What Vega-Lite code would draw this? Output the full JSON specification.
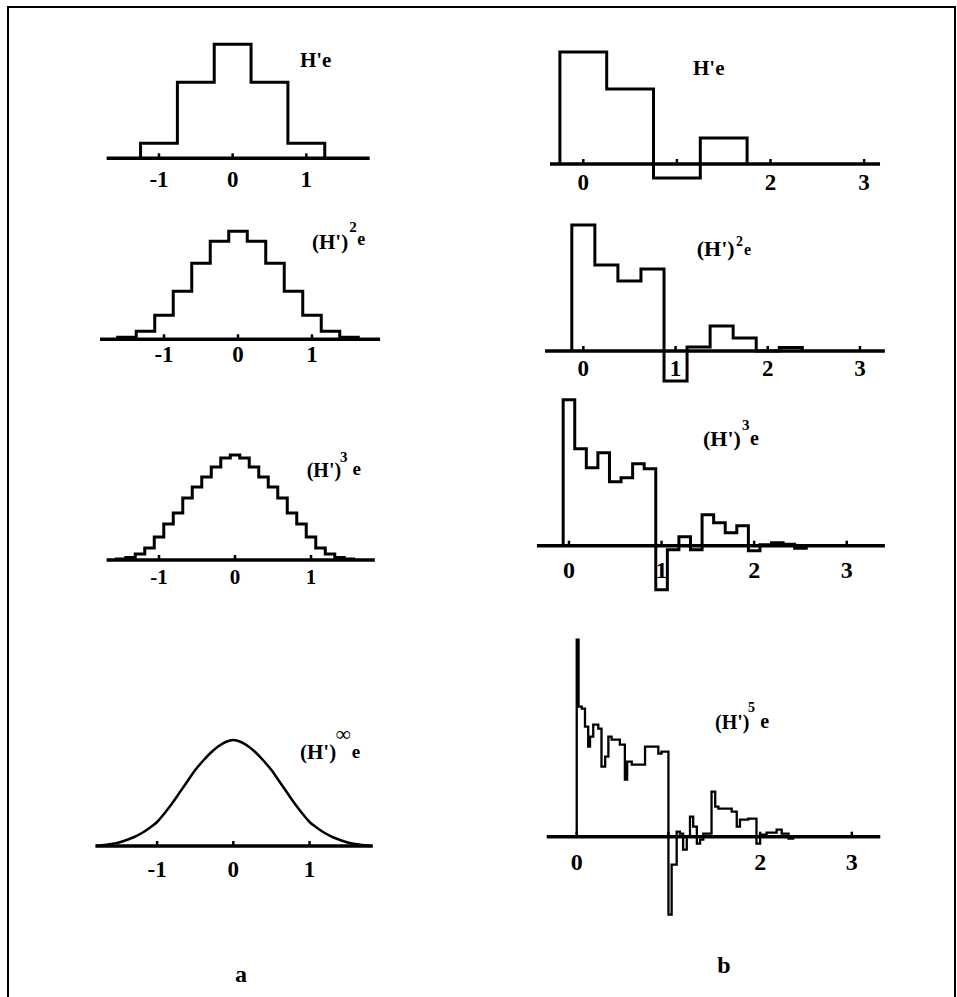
{
  "$schema": "https://vega.github.io/schema/vega-lite/v6.json",
  "width": 947,
  "height": 995,
  "autosize": {"type": "none"},
  "padding": {"left": 8, "top": 7, "right": 2, "bottom": 0},
  "background": "white",
  "config": {
    "view": {"stroke": "black", "strokeWidth": 2},
    "text": {"font": "Liberation Serif", "fontWeight": "bold", "color": "black"},
    "line": {"color": "black"},
    "rule": {"color": "black"}
  },
  "datasets": {
    "L1": [{"x": -1.25, "y": 0}, {"x": -1.25, "y": 15}, {"x": -0.75, "y": 76}, {"x": -0.25, "y": 114}, {"x": 0.25, "y": 76}, {"x": 0.75, "y": 15}, {"x": 1.25, "y": 0}],
    "L2": [{"x": -1.625, "y": 0}, {"x": -1.625, "y": 2}, {"x": -1.375, "y": 8}, {"x": -1.125, "y": 24}, {"x": -0.875, "y": 48}, {"x": -0.625, "y": 76}, {"x": -0.375, "y": 98}, {"x": -0.125, "y": 108}, {"x": 0.125, "y": 98}, {"x": 0.375, "y": 76}, {"x": 0.625, "y": 48}, {"x": 0.875, "y": 24}, {"x": 1.125, "y": 8}, {"x": 1.375, "y": 2}, {"x": 1.625, "y": 0}],
    "L3": [{"x": -1.5625, "y": 0}, {"x": -1.5625, "y": 1}, {"x": -1.4375, "y": 2.5}, {"x": -1.3125, "y": 6}, {"x": -1.1875, "y": 12}, {"x": -1.0625, "y": 23}, {"x": -0.9375, "y": 36}, {"x": -0.8125, "y": 47}, {"x": -0.6875, "y": 62}, {"x": -0.5625, "y": 73}, {"x": -0.4375, "y": 83}, {"x": -0.3125, "y": 93}, {"x": -0.1875, "y": 102}, {"x": -0.0625, "y": 105}, {"x": 0.0625, "y": 102}, {"x": 0.1875, "y": 93}, {"x": 0.3125, "y": 83}, {"x": 0.4375, "y": 73}, {"x": 0.5625, "y": 62}, {"x": 0.6875, "y": 47}, {"x": 0.8125, "y": 36}, {"x": 0.9375, "y": 23}, {"x": 1.0625, "y": 12}, {"x": 1.1875, "y": 6}, {"x": 1.3125, "y": 2.5}, {"x": 1.4375, "y": 1}, {"x": 1.5625, "y": 0}],
    "L4": [{"x": -1.8, "y": 0}, {"x": -1.7, "y": 1}, {"x": -1.6, "y": 2}, {"x": -1.5, "y": 3.5}, {"x": -1.4, "y": 6}, {"x": -1.3, "y": 9}, {"x": -1.2, "y": 13}, {"x": -1.1, "y": 18}, {"x": -1.0, "y": 24}, {"x": -0.9, "y": 33}, {"x": -0.8, "y": 43}, {"x": -0.7, "y": 54}, {"x": -0.6, "y": 65}, {"x": -0.5, "y": 76}, {"x": -0.4, "y": 85}, {"x": -0.3, "y": 93}, {"x": -0.2, "y": 99.5}, {"x": -0.1, "y": 104}, {"x": 0, "y": 106}, {"x": 0.1, "y": 104}, {"x": 0.2, "y": 99.5}, {"x": 0.3, "y": 93}, {"x": 0.4, "y": 85}, {"x": 0.5, "y": 76}, {"x": 0.6, "y": 65}, {"x": 0.7, "y": 54}, {"x": 0.8, "y": 43}, {"x": 0.9, "y": 33}, {"x": 1.0, "y": 24}, {"x": 1.1, "y": 18}, {"x": 1.2, "y": 13}, {"x": 1.3, "y": 9}, {"x": 1.4, "y": 6}, {"x": 1.5, "y": 3.5}, {"x": 1.6, "y": 2}, {"x": 1.7, "y": 1}, {"x": 1.8, "y": 0}],
    "R1": [{"x": -0.25, "y": 0}, {"x": -0.25, "y": 112}, {"x": 0.25, "y": 75}, {"x": 0.75, "y": -14}, {"x": 1.25, "y": 26}, {"x": 1.75, "y": 0}],
    "R2": [{"x": -0.125, "y": 0}, {"x": -0.125, "y": 126}, {"x": 0.125, "y": 86}, {"x": 0.375, "y": 70}, {"x": 0.625, "y": 82}, {"x": 0.875, "y": -30}, {"x": 1.125, "y": 4}, {"x": 1.375, "y": 25}, {"x": 1.625, "y": 13}, {"x": 1.875, "y": 0}, {"x": 2.125, "y": 3.5}, {"x": 2.375, "y": 0}],
    "R3": [{"x": -0.0625, "y": 0}, {"x": -0.0625, "y": 146}, {"x": 0.0625, "y": 97}, {"x": 0.1875, "y": 78}, {"x": 0.3125, "y": 93}, {"x": 0.4375, "y": 64}, {"x": 0.5625, "y": 68}, {"x": 0.6875, "y": 82}, {"x": 0.8125, "y": 77}, {"x": 0.9375, "y": -44}, {"x": 1.0625, "y": -4}, {"x": 1.1875, "y": 9}, {"x": 1.3125, "y": -4}, {"x": 1.4375, "y": 31}, {"x": 1.5625, "y": 23}, {"x": 1.6875, "y": 13}, {"x": 1.8125, "y": 20}, {"x": 1.9375, "y": -5}, {"x": 2.0625, "y": 1}, {"x": 2.1875, "y": 3}, {"x": 2.3125, "y": 1.5}, {"x": 2.4375, "y": -2.5}, {"x": 2.5625, "y": 0}],
    "R4": [{"x": 0, "y": 0}, {"x": 0, "y": 197}, {"x": 0.02, "y": 130}, {"x": 0.055, "y": 128}, {"x": 0.09, "y": 110}, {"x": 0.125, "y": 90}, {"x": 0.145, "y": 100}, {"x": 0.18, "y": 112}, {"x": 0.235, "y": 108}, {"x": 0.27, "y": 70}, {"x": 0.31, "y": 80}, {"x": 0.345, "y": 100}, {"x": 0.38, "y": 97}, {"x": 0.47, "y": 92}, {"x": 0.525, "y": 57}, {"x": 0.55, "y": 75}, {"x": 0.6, "y": 72}, {"x": 0.745, "y": 90}, {"x": 0.89, "y": 83}, {"x": 0.925, "y": 85}, {"x": 1.0, "y": -78}, {"x": 1.035, "y": -28}, {"x": 1.09, "y": 5}, {"x": 1.125, "y": 3}, {"x": 1.16, "y": -13}, {"x": 1.2, "y": 0}, {"x": 1.235, "y": 20}, {"x": 1.27, "y": 10}, {"x": 1.31, "y": -7}, {"x": 1.345, "y": -3}, {"x": 1.38, "y": 3}, {"x": 1.47, "y": 45}, {"x": 1.51, "y": 30}, {"x": 1.545, "y": 28}, {"x": 1.69, "y": 25}, {"x": 1.745, "y": 10}, {"x": 1.78, "y": 17}, {"x": 1.87, "y": 18}, {"x": 1.96, "y": -7}, {"x": 2.0, "y": 2}, {"x": 2.07, "y": 4}, {"x": 2.18, "y": 7}, {"x": 2.235, "y": 3}, {"x": 2.31, "y": -2}, {"x": 2.36, "y": 0}],
    "ticksA": [{"x": -1, "t": "-1"}, {"x": 0, "t": "0"}, {"x": 1, "t": "1"}],
    "ticksB": [{"x": 0, "t": "0"}, {"x": 1, "t": "1"}, {"x": 2, "t": "2"}, {"x": 3, "t": "3"}],
    "one": [{}]
  },
  "resolve": {"scale": {"x": "independent", "y": "independent"}},
  "layer": [
    {"data": {"name": "L1"}, "mark": {"type": "line", "interpolate": "step-after", "strokeWidth": 3},
     "encoding": {"x": {"field": "x", "type": "quantitative", "scale": {"domain": [-3.049, 9.804], "nice": false, "zero": false}, "axis": null},
                  "y": {"field": "y", "type": "quantitative", "scale": {"domain": [-843.7, 151.3], "nice": false, "zero": false}, "axis": null}}},
    {"data": {"name": "one"}, "mark": {"type": "rule", "strokeWidth": 3.5},
     "encoding": {"x": {"datum": -1.71, "type": "quantitative", "scale": {"domain": [-3.049, 9.804], "nice": false, "zero": false}, "axis": null}, "x2": {"datum": 1.86},
                  "y": {"datum": 0, "type": "quantitative", "scale": {"domain": [-843.7, 151.3], "nice": false, "zero": false}, "axis": null}}},
    {"data": {"name": "ticksA"}, "mark": {"type": "rule", "strokeWidth": 2.5},
     "encoding": {"x": {"field": "x", "type": "quantitative", "scale": {"domain": [-3.049, 9.804], "nice": false, "zero": false}, "axis": null},
                  "y": {"datum": 0, "type": "quantitative", "scale": {"domain": [-843.7, 151.3], "nice": false, "zero": false}, "axis": null}, "y2": {"datum": 5}}},
    {"data": {"name": "ticksA"}, "mark": {"type": "text", "fontSize": 23, "dy": 28.5, "align": "center", "baseline": "alphabetic"},
     "encoding": {"x": {"field": "x", "type": "quantitative", "scale": {"domain": [-3.049, 9.804], "nice": false, "zero": false}, "axis": null},
                  "y": {"datum": 0, "type": "quantitative", "scale": {"domain": [-843.7, 151.3], "nice": false, "zero": false}, "axis": null}, "text": {"field": "t"}}},
    {"data": {"name": "one"}, "mark": {"type": "text", "fontSize": 21, "align": "left", "baseline": "alphabetic"},
     "encoding": {"x": {"datum": 0.913, "type": "quantitative", "scale": {"domain": [-3.049, 9.804], "nice": false, "zero": false}, "axis": null},
                  "y": {"datum": 91.3, "type": "quantitative", "scale": {"domain": [-843.7, 151.3], "nice": false, "zero": false}, "axis": null}, "text": {"value": "H'e"}}},

    {"data": {"name": "L2"}, "mark": {"type": "line", "interpolate": "step-after", "strokeWidth": 3},
     "encoding": {"x": {"field": "x", "type": "quantitative", "scale": {"domain": [-3.108, 9.689], "nice": false, "zero": false}, "axis": null},
                  "y": {"field": "y", "type": "quantitative", "scale": {"domain": [-662.7, 332.3], "nice": false, "zero": false}, "axis": null}}},
    {"data": {"name": "one"}, "mark": {"type": "rule", "strokeWidth": 3.5},
     "encoding": {"x": {"datum": -1.865, "type": "quantitative", "scale": {"domain": [-3.108, 9.689], "nice": false, "zero": false}, "axis": null}, "x2": {"datum": 1.92},
                  "y": {"datum": 0, "type": "quantitative", "scale": {"domain": [-662.7, 332.3], "nice": false, "zero": false}, "axis": null}}},
    {"data": {"name": "ticksA"}, "mark": {"type": "rule", "strokeWidth": 2.5},
     "encoding": {"x": {"field": "x", "type": "quantitative", "scale": {"domain": [-3.108, 9.689], "nice": false, "zero": false}, "axis": null},
                  "y": {"datum": 0, "type": "quantitative", "scale": {"domain": [-662.7, 332.3], "nice": false, "zero": false}, "axis": null}, "y2": {"datum": 5}}},
    {"data": {"name": "ticksA"}, "mark": {"type": "text", "fontSize": 23, "dy": 23, "align": "center", "baseline": "alphabetic"},
     "encoding": {"x": {"field": "x", "type": "quantitative", "scale": {"domain": [-3.108, 9.689], "nice": false, "zero": false}, "axis": null},
                  "y": {"datum": 0, "type": "quantitative", "scale": {"domain": [-662.7, 332.3], "nice": false, "zero": false}, "axis": null}, "text": {"field": "t"}}},
    {"data": {"name": "one"}, "mark": {"type": "text", "fontSize": 21, "align": "left", "baseline": "alphabetic"},
     "encoding": {"x": {"datum": 1.0, "type": "quantitative", "scale": {"domain": [-3.108, 9.689], "nice": false, "zero": false}, "axis": null},
                  "y": {"datum": 90, "type": "quantitative", "scale": {"domain": [-662.7, 332.3], "nice": false, "zero": false}, "axis": null}, "text": {"value": "(H')"}}},
    {"data": {"name": "one"}, "mark": {"type": "text", "fontSize": 15, "align": "left", "baseline": "alphabetic"},
     "encoding": {"x": {"datum": 1.505, "type": "quantitative", "scale": {"domain": [-3.108, 9.689], "nice": false, "zero": false}, "axis": null},
                  "y": {"datum": 107.3, "type": "quantitative", "scale": {"domain": [-662.7, 332.3], "nice": false, "zero": false}, "axis": null}, "text": {"value": "2"}}},
    {"data": {"name": "one"}, "mark": {"type": "text", "fontSize": 18, "align": "left", "baseline": "alphabetic"},
     "encoding": {"x": {"datum": 1.612, "type": "quantitative", "scale": {"domain": [-3.108, 9.689], "nice": false, "zero": false}, "axis": null},
                  "y": {"datum": 94.3, "type": "quantitative", "scale": {"domain": [-662.7, 332.3], "nice": false, "zero": false}, "axis": null}, "text": {"value": "e"}}},

    {"data": {"name": "L3"}, "mark": {"type": "line", "interpolate": "step-after", "strokeWidth": 3},
     "encoding": {"x": {"field": "x", "type": "quantitative", "scale": {"domain": [-2.987, 9.474], "nice": false, "zero": false}, "axis": null},
                  "y": {"field": "y", "type": "quantitative", "scale": {"domain": [-442, 553], "nice": false, "zero": false}, "axis": null}}},
    {"data": {"name": "one"}, "mark": {"type": "rule", "strokeWidth": 3.5},
     "encoding": {"x": {"datum": -1.69, "type": "quantitative", "scale": {"domain": [-2.987, 9.474], "nice": false, "zero": false}, "axis": null}, "x2": {"datum": 1.84},
                  "y": {"datum": 0, "type": "quantitative", "scale": {"domain": [-442, 553], "nice": false, "zero": false}, "axis": null}}},
    {"data": {"name": "ticksA"}, "mark": {"type": "rule", "strokeWidth": 2.5},
     "encoding": {"x": {"field": "x", "type": "quantitative", "scale": {"domain": [-2.987, 9.474], "nice": false, "zero": false}, "axis": null},
                  "y": {"datum": 0, "type": "quantitative", "scale": {"domain": [-442, 553], "nice": false, "zero": false}, "axis": null}, "y2": {"datum": 5}}},
    {"data": {"name": "ticksA"}, "mark": {"type": "text", "fontSize": 21, "dy": 23.5, "align": "center", "baseline": "alphabetic"},
     "encoding": {"x": {"field": "x", "type": "quantitative", "scale": {"domain": [-2.987, 9.474], "nice": false, "zero": false}, "axis": null},
                  "y": {"datum": 0, "type": "quantitative", "scale": {"domain": [-442, 553], "nice": false, "zero": false}, "axis": null}, "text": {"field": "t"}}},
    {"data": {"name": "one"}, "mark": {"type": "text", "fontSize": 20, "align": "left", "baseline": "alphabetic"},
     "encoding": {"x": {"datum": 0.943, "type": "quantitative", "scale": {"domain": [-2.987, 9.474], "nice": false, "zero": false}, "axis": null},
                  "y": {"datum": 83, "type": "quantitative", "scale": {"domain": [-442, 553], "nice": false, "zero": false}, "axis": null}, "text": {"value": "(H')"}}},
    {"data": {"name": "one"}, "mark": {"type": "text", "fontSize": 15, "align": "left", "baseline": "alphabetic"},
     "encoding": {"x": {"datum": 1.38, "type": "quantitative", "scale": {"domain": [-2.987, 9.474], "nice": false, "zero": false}, "axis": null},
                  "y": {"datum": 98, "type": "quantitative", "scale": {"domain": [-442, 553], "nice": false, "zero": false}, "axis": null}, "text": {"value": "3"}}},
    {"data": {"name": "one"}, "mark": {"type": "text", "fontSize": 19, "align": "left", "baseline": "alphabetic"},
     "encoding": {"x": {"datum": 1.545, "type": "quantitative", "scale": {"domain": [-2.987, 9.474], "nice": false, "zero": false}, "axis": null},
                  "y": {"datum": 85, "type": "quantitative", "scale": {"domain": [-442, 553], "nice": false, "zero": false}, "axis": null}, "text": {"value": "e"}}},

    {"data": {"name": "L4"}, "mark": {"type": "line", "interpolate": "monotone", "strokeWidth": 2.5},
     "encoding": {"x": {"field": "x", "type": "quantitative", "scale": {"domain": [-2.957, 9.47], "nice": false, "zero": false}, "axis": null},
                  "y": {"field": "y", "type": "quantitative", "scale": {"domain": [-156, 839], "nice": false, "zero": false}, "axis": null}}},
    {"data": {"name": "one"}, "mark": {"type": "rule", "strokeWidth": 3.5},
     "encoding": {"x": {"datum": -1.81, "type": "quantitative", "scale": {"domain": [-2.957, 9.47], "nice": false, "zero": false}, "axis": null}, "x2": {"datum": 1.83},
                  "y": {"datum": 0, "type": "quantitative", "scale": {"domain": [-156, 839], "nice": false, "zero": false}, "axis": null}}},
    {"data": {"name": "ticksA"}, "mark": {"type": "rule", "strokeWidth": 2.5},
     "encoding": {"x": {"field": "x", "type": "quantitative", "scale": {"domain": [-2.957, 9.47], "nice": false, "zero": false}, "axis": null},
                  "y": {"datum": 0, "type": "quantitative", "scale": {"domain": [-156, 839], "nice": false, "zero": false}, "axis": null}, "y2": {"datum": 5}}},
    {"data": {"name": "ticksA"}, "mark": {"type": "text", "fontSize": 23, "dy": 31, "align": "center", "baseline": "alphabetic"},
     "encoding": {"x": {"field": "x", "type": "quantitative", "scale": {"domain": [-2.957, 9.47], "nice": false, "zero": false}, "axis": null},
                  "y": {"datum": 0, "type": "quantitative", "scale": {"domain": [-156, 839], "nice": false, "zero": false}, "axis": null}, "text": {"field": "t"}}},
    {"data": {"name": "one"}, "mark": {"type": "text", "fontSize": 21, "align": "left", "baseline": "alphabetic"},
     "encoding": {"x": {"datum": 0.875, "type": "quantitative", "scale": {"domain": [-2.957, 9.47], "nice": false, "zero": false}, "axis": null},
                  "y": {"datum": 87, "type": "quantitative", "scale": {"domain": [-156, 839], "nice": false, "zero": false}, "axis": null}, "text": {"value": "(H')"}}},
    {"data": {"name": "one"}, "mark": {"type": "text", "fontSize": 21, "align": "left", "baseline": "alphabetic"},
     "encoding": {"x": {"datum": 1.348, "type": "quantitative", "scale": {"domain": [-2.957, 9.47], "nice": false, "zero": false}, "axis": null},
                  "y": {"datum": 105, "type": "quantitative", "scale": {"domain": [-156, 839], "nice": false, "zero": false}, "axis": null}, "text": {"value": "∞"}}},
    {"data": {"name": "one"}, "mark": {"type": "text", "fontSize": 19, "align": "left", "baseline": "alphabetic"},
     "encoding": {"x": {"datum": 1.555, "type": "quantitative", "scale": {"domain": [-2.957, 9.47], "nice": false, "zero": false}, "axis": null},
                  "y": {"datum": 88, "type": "quantitative", "scale": {"domain": [-156, 839], "nice": false, "zero": false}, "axis": null}, "text": {"value": "e"}}},
    {"data": {"name": "one"}, "mark": {"type": "text", "fontSize": 24, "align": "center", "baseline": "alphabetic"},
     "encoding": {"x": {"datum": 0.1, "type": "quantitative", "scale": {"domain": [-2.957, 9.47], "nice": false, "zero": false}, "axis": null},
                  "y": {"datum": -136, "type": "quantitative", "scale": {"domain": [-156, 839], "nice": false, "zero": false}, "axis": null}, "text": {"value": "a"}}},

    {"data": {"name": "R1"}, "mark": {"type": "line", "interpolate": "step-after", "strokeWidth": 3},
     "encoding": {"x": {"field": "x", "type": "quantitative", "scale": {"domain": [-6.146, 3.971], "nice": false, "zero": false}, "axis": null},
                  "y": {"field": "y", "type": "quantitative", "scale": {"domain": [-838, 157], "nice": false, "zero": false}, "axis": null}}},
    {"data": {"name": "one"}, "mark": {"type": "rule", "strokeWidth": 3.5},
     "encoding": {"x": {"datum": -0.356, "type": "quantitative", "scale": {"domain": [-6.146, 3.971], "nice": false, "zero": false}, "axis": null}, "x2": {"datum": 3.17},
                  "y": {"datum": 0, "type": "quantitative", "scale": {"domain": [-838, 157], "nice": false, "zero": false}, "axis": null}}},
    {"data": {"name": "ticksB"}, "mark": {"type": "rule", "strokeWidth": 2.5},
     "encoding": {"x": {"field": "x", "type": "quantitative", "scale": {"domain": [-6.146, 3.971], "nice": false, "zero": false}, "axis": null},
                  "y": {"datum": 0, "type": "quantitative", "scale": {"domain": [-838, 157], "nice": false, "zero": false}, "axis": null}, "y2": {"datum": 5}}},
    {"data": {"name": "ticksB"}, "transform": [{"filter": "datum.t != '1'"}], "mark": {"type": "text", "fontSize": 23, "dy": 26, "align": "center", "baseline": "alphabetic"},
     "encoding": {"x": {"field": "x", "type": "quantitative", "scale": {"domain": [-6.146, 3.971], "nice": false, "zero": false}, "axis": null},
                  "y": {"datum": 0, "type": "quantitative", "scale": {"domain": [-838, 157], "nice": false, "zero": false}, "axis": null}, "text": {"field": "t"}}},
    {"data": {"name": "one"}, "mark": {"type": "text", "fontSize": 21, "align": "left", "baseline": "alphabetic"},
     "encoding": {"x": {"datum": 1.172, "type": "quantitative", "scale": {"domain": [-6.146, 3.971], "nice": false, "zero": false}, "axis": null},
                  "y": {"datum": 89, "type": "quantitative", "scale": {"domain": [-838, 157], "nice": false, "zero": false}, "axis": null}, "text": {"value": "H'e"}}},

    {"data": {"name": "R2"}, "mark": {"type": "line", "interpolate": "step-after", "strokeWidth": 3},
     "encoding": {"x": {"field": "x", "type": "quantitative", "scale": {"domain": [-6.24, 4.031], "nice": false, "zero": false}, "axis": null},
                  "y": {"field": "y", "type": "quantitative", "scale": {"domain": [-651, 344], "nice": false, "zero": false}, "axis": null}}},
    {"data": {"name": "one"}, "mark": {"type": "rule", "strokeWidth": 3.5},
     "encoding": {"x": {"datum": -0.415, "type": "quantitative", "scale": {"domain": [-6.24, 4.031], "nice": false, "zero": false}, "axis": null}, "x2": {"datum": 3.27},
                  "y": {"datum": 0, "type": "quantitative", "scale": {"domain": [-651, 344], "nice": false, "zero": false}, "axis": null}}},
    {"data": {"name": "ticksB"}, "mark": {"type": "rule", "strokeWidth": 2.5},
     "encoding": {"x": {"field": "x", "type": "quantitative", "scale": {"domain": [-6.24, 4.031], "nice": false, "zero": false}, "axis": null},
                  "y": {"datum": 0, "type": "quantitative", "scale": {"domain": [-651, 344], "nice": false, "zero": false}, "axis": null}, "y2": {"datum": 5}}},
    {"data": {"name": "ticksB"}, "mark": {"type": "text", "fontSize": 23, "dy": 25, "align": "center", "baseline": "alphabetic"},
     "encoding": {"x": {"field": "x", "type": "quantitative", "scale": {"domain": [-6.24, 4.031], "nice": false, "zero": false}, "axis": null},
                  "y": {"datum": 0, "type": "quantitative", "scale": {"domain": [-651, 344], "nice": false, "zero": false}, "axis": null}, "text": {"field": "t"}}},
    {"data": {"name": "one"}, "mark": {"type": "text", "fontSize": 22, "align": "left", "baseline": "alphabetic"},
     "encoding": {"x": {"datum": 1.23, "type": "quantitative", "scale": {"domain": [-6.24, 4.031], "nice": false, "zero": false}, "axis": null},
                  "y": {"datum": 95, "type": "quantitative", "scale": {"domain": [-651, 344], "nice": false, "zero": false}, "axis": null}, "text": {"value": "(H')"}}},
    {"data": {"name": "one"}, "mark": {"type": "text", "fontSize": 14, "align": "left", "baseline": "alphabetic"},
     "encoding": {"x": {"datum": 1.656, "type": "quantitative", "scale": {"domain": [-6.24, 4.031], "nice": false, "zero": false}, "axis": null},
                  "y": {"datum": 105, "type": "quantitative", "scale": {"domain": [-651, 344], "nice": false, "zero": false}, "axis": null}, "text": {"value": "2"}}},
    {"data": {"name": "one"}, "mark": {"type": "text", "fontSize": 16, "align": "left", "baseline": "alphabetic"},
     "encoding": {"x": {"datum": 1.743, "type": "quantitative", "scale": {"domain": [-6.24, 4.031], "nice": false, "zero": false}, "axis": null},
                  "y": {"datum": 96, "type": "quantitative", "scale": {"domain": [-651, 344], "nice": false, "zero": false}, "axis": null}, "text": {"value": "e"}}},

    {"data": {"name": "R3"}, "mark": {"type": "line", "interpolate": "step-after", "strokeWidth": 3},
     "encoding": {"x": {"field": "x", "type": "quantitative", "scale": {"domain": [-6.058, 4.169], "nice": false, "zero": false}, "axis": null},
                  "y": {"field": "y", "type": "quantitative", "scale": {"domain": [-456.3, 538.7], "nice": false, "zero": false}, "axis": null}}},
    {"data": {"name": "one"}, "mark": {"type": "rule", "strokeWidth": 3.5},
     "encoding": {"x": {"datum": -0.346, "type": "quantitative", "scale": {"domain": [-6.058, 4.169], "nice": false, "zero": false}, "axis": null}, "x2": {"datum": 3.412},
                  "y": {"datum": 0, "type": "quantitative", "scale": {"domain": [-456.3, 538.7], "nice": false, "zero": false}, "axis": null}}},
    {"data": {"name": "ticksB"}, "mark": {"type": "rule", "strokeWidth": 2.5},
     "encoding": {"x": {"field": "x", "type": "quantitative", "scale": {"domain": [-6.058, 4.169], "nice": false, "zero": false}, "axis": null},
                  "y": {"datum": 0, "type": "quantitative", "scale": {"domain": [-456.3, 538.7], "nice": false, "zero": false}, "axis": null}, "y2": {"datum": 5}}},
    {"data": {"name": "ticksB"}, "mark": {"type": "text", "fontSize": 24, "dy": 32, "align": "center", "baseline": "alphabetic"},
     "encoding": {"x": {"field": "x", "type": "quantitative", "scale": {"domain": [-6.058, 4.169], "nice": false, "zero": false}, "axis": null},
                  "y": {"datum": 0, "type": "quantitative", "scale": {"domain": [-456.3, 538.7], "nice": false, "zero": false}, "axis": null}, "text": {"field": "t"}}},
    {"data": {"name": "one"}, "mark": {"type": "text", "fontSize": 22, "align": "left", "baseline": "alphabetic"},
     "encoding": {"x": {"datum": 1.447, "type": "quantitative", "scale": {"domain": [-6.058, 4.169], "nice": false, "zero": false}, "axis": null},
                  "y": {"datum": 99.7, "type": "quantitative", "scale": {"domain": [-456.3, 538.7], "nice": false, "zero": false}, "axis": null}, "text": {"value": "(H')"}}},
    {"data": {"name": "one"}, "mark": {"type": "text", "fontSize": 15, "align": "left", "baseline": "alphabetic"},
     "encoding": {"x": {"datum": 1.868, "type": "quantitative", "scale": {"domain": [-6.058, 4.169], "nice": false, "zero": false}, "axis": null},
                  "y": {"datum": 115.7, "type": "quantitative", "scale": {"domain": [-456.3, 538.7], "nice": false, "zero": false}, "axis": null}, "text": {"value": "3"}}},
    {"data": {"name": "one"}, "mark": {"type": "text", "fontSize": 20, "align": "left", "baseline": "alphabetic"},
     "encoding": {"x": {"datum": 1.955, "type": "quantitative", "scale": {"domain": [-6.058, 4.169], "nice": false, "zero": false}, "axis": null},
                  "y": {"datum": 100.7, "type": "quantitative", "scale": {"domain": [-456.3, 538.7], "nice": false, "zero": false}, "axis": null}, "text": {"value": "e"}}},

    {"data": {"name": "R4"}, "mark": {"type": "line", "interpolate": "step-after", "strokeWidth": 2.3},
     "encoding": {"x": {"field": "x", "type": "quantitative", "scale": {"domain": [-6.202, 4.125], "nice": false, "zero": false}, "axis": null},
                  "y": {"field": "y", "type": "quantitative", "scale": {"domain": [-165.3, 829.7], "nice": false, "zero": false}, "axis": null}}},
    {"data": {"name": "one"}, "mark": {"type": "rule", "strokeWidth": 3.5},
     "encoding": {"x": {"datum": -0.327, "type": "quantitative", "scale": {"domain": [-6.202, 4.125], "nice": false, "zero": false}, "axis": null}, "x2": {"datum": 3.31},
                  "y": {"datum": 0, "type": "quantitative", "scale": {"domain": [-165.3, 829.7], "nice": false, "zero": false}, "axis": null}}},
    {"data": {"name": "ticksB"}, "mark": {"type": "rule", "strokeWidth": 2.5},
     "encoding": {"x": {"field": "x", "type": "quantitative", "scale": {"domain": [-6.202, 4.125], "nice": false, "zero": false}, "axis": null},
                  "y": {"datum": 0, "type": "quantitative", "scale": {"domain": [-165.3, 829.7], "nice": false, "zero": false}, "axis": null}, "y2": {"datum": 5}}},
    {"data": {"name": "ticksB"}, "transform": [{"filter": "datum.t != '1'"}], "mark": {"type": "text", "fontSize": 24, "dy": 33, "align": "center", "baseline": "alphabetic"},
     "encoding": {"x": {"field": "x", "type": "quantitative", "scale": {"domain": [-6.202, 4.125], "nice": false, "zero": false}, "axis": null},
                  "y": {"datum": 0, "type": "quantitative", "scale": {"domain": [-165.3, 829.7], "nice": false, "zero": false}, "axis": null}, "text": {"field": "t"}}},
    {"data": {"name": "one"}, "mark": {"type": "text", "fontSize": 20, "align": "left", "baseline": "alphabetic"},
     "encoding": {"x": {"datum": 1.508, "type": "quantitative", "scale": {"domain": [-6.202, 4.125], "nice": false, "zero": false}, "axis": null},
                  "y": {"datum": 107.7, "type": "quantitative", "scale": {"domain": [-165.3, 829.7], "nice": false, "zero": false}, "axis": null}, "text": {"value": "(H')"}}},
    {"data": {"name": "one"}, "mark": {"type": "text", "fontSize": 14, "align": "left", "baseline": "alphabetic"},
     "encoding": {"x": {"datum": 1.868, "type": "quantitative", "scale": {"domain": [-6.202, 4.125], "nice": false, "zero": false}, "axis": null},
                  "y": {"datum": 124.7, "type": "quantitative", "scale": {"domain": [-165.3, 829.7], "nice": false, "zero": false}, "axis": null}, "text": {"value": "5"}}},
    {"data": {"name": "one"}, "mark": {"type": "text", "fontSize": 20, "align": "left", "baseline": "alphabetic"},
     "encoding": {"x": {"datum": 2.0, "type": "quantitative", "scale": {"domain": [-6.202, 4.125], "nice": false, "zero": false}, "axis": null},
                  "y": {"datum": 108.7, "type": "quantitative", "scale": {"domain": [-165.3, 829.7], "nice": false, "zero": false}, "axis": null}, "text": {"value": "e"}}},
    {"data": {"name": "one"}, "mark": {"type": "text", "fontSize": 24, "align": "center", "baseline": "alphabetic"},
     "encoding": {"x": {"datum": 1.606, "type": "quantitative", "scale": {"domain": [-6.202, 4.125], "nice": false, "zero": false}, "axis": null},
                  "y": {"datum": -136.3, "type": "quantitative", "scale": {"domain": [-165.3, 829.7], "nice": false, "zero": false}, "axis": null}, "text": {"value": "b"}}}
  ]
}
